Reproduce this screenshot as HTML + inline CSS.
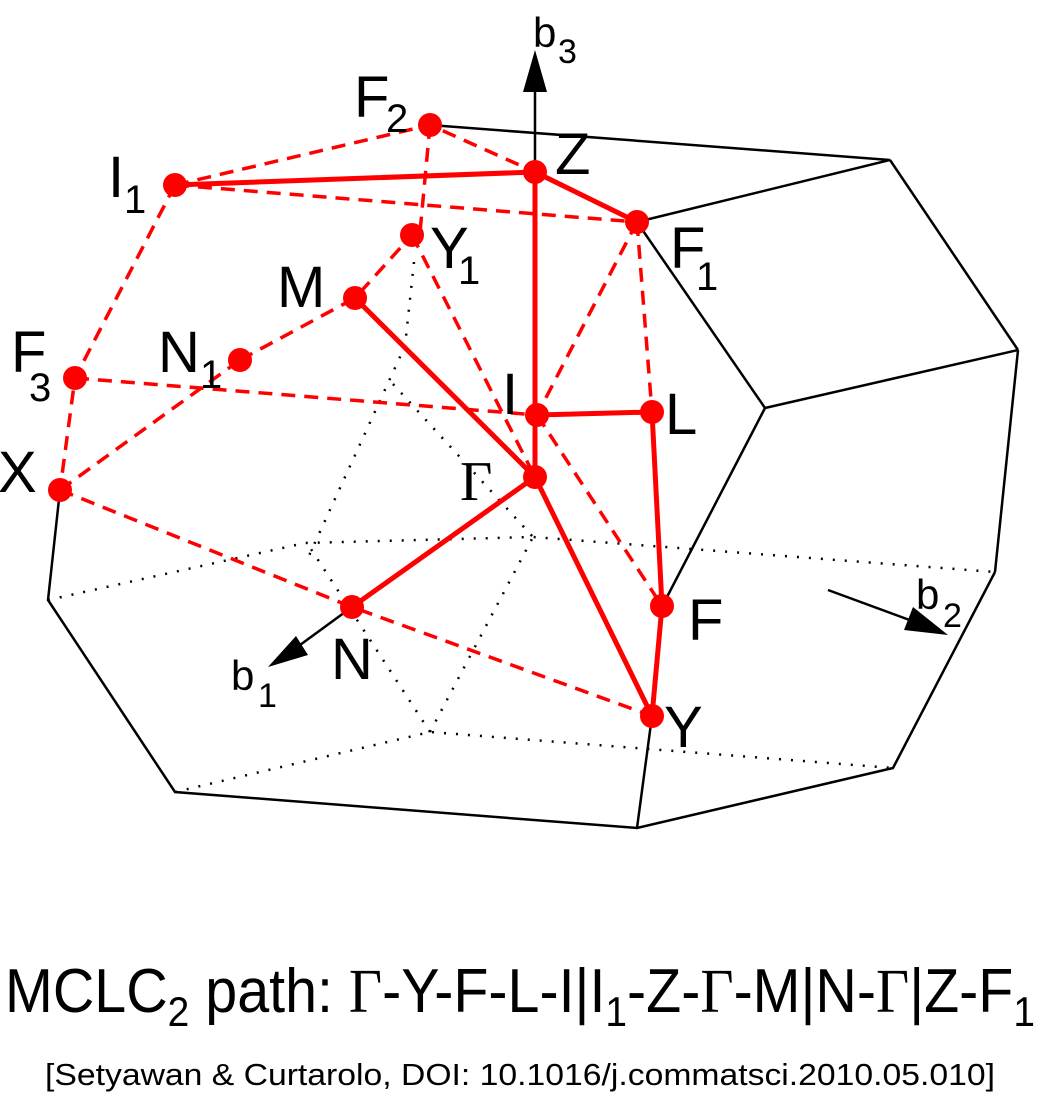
<!DOCTYPE html>
<html><head><meta charset="utf-8"><style>
html,body{margin:0;padding:0;background:#fff;}
svg{display:block;}
text{font-family:"Liberation Sans",sans-serif;fill:#000;}
</style></head><body>
<svg width="1043" height="1097" viewBox="0 0 1043 1097" xmlns="http://www.w3.org/2000/svg">
<!-- dotted hidden edges -->
<g stroke="#000" stroke-width="2.5" stroke-dasharray="2,10" fill="none">
<polyline points="48,600 305,543 533,537 995,572"/>
<polyline points="175,792 430,732 893,768"/>
<line x1="430" y1="732" x2="533" y2="537"/>
<line x1="430" y1="732" x2="307" y2="543"/>
<polyline points="414,262 405,346 307,560"/>
<polyline points="393,384 533,537"/>
<polyline points="405,346 533,477"/>
</g>
<!-- black solid edges -->
<g stroke="#000" stroke-width="2.5" fill="none">
<polyline points="430,125 890,160 637,222"/>
<line x1="890" y1="160" x2="1018" y2="350"/>
<line x1="637" y1="222" x2="765" y2="408"/>
<line x1="765" y1="408" x2="1018" y2="350"/>
<line x1="1018" y1="350" x2="995" y2="572"/>
<line x1="765" y1="408" x2="667" y2="597"/>
<polyline points="995,572 893,768 637,828 175,792 48,600 60,490"/>
<line x1="637" y1="828" x2="652" y2="716"/>
<line x1="535" y1="172" x2="535" y2="80"/>
<line x1="352" y1="607" x2="300" y2="645"/>
<line x1="828" y1="590" x2="915" y2="622"/>
</g>
<polygon points="535,50 523,92 547,92" fill="#000"/>
<polygon points="268,667 296,636 308,655" fill="#000"/>
<polygon points="948,635 904,630 913,607" fill="#000"/>
<!-- red dashed -->
<g stroke="#f00" stroke-width="3.5" stroke-dasharray="14,9" fill="none">
<polyline points="175,185 430,125 535,172"/>
<line x1="430" y1="125" x2="420" y2="232"/>
<line x1="175" y1="185" x2="637" y2="222"/>
<polyline points="175,185 75,378 60,490"/>
<line x1="75" y1="378" x2="537" y2="415"/>
<line x1="60" y1="490" x2="240" y2="360"/>
<polyline points="240,360 355,298 412,235"/>
<polyline points="60,490 352,607 652,716"/>
<line x1="412" y1="235" x2="535" y2="477"/>
<line x1="637" y1="222" x2="537" y2="415"/>
<line x1="637" y1="222" x2="652" y2="412"/>
<line x1="537" y1="415" x2="662" y2="606"/>
</g>
<!-- red solid path -->
<g stroke="#f00" stroke-width="5" fill="none" stroke-linejoin="round">
<polyline points="535,477 652,716 662,606 652,412 537,415"/>
<polyline points="175,185 535,172 535,477 355,298"/>
<line x1="352" y1="607" x2="535" y2="477"/>
<line x1="535" y1="172" x2="637" y2="222"/>
</g>
<g fill="#f00">
<circle cx="535" cy="172" r="12"/><circle cx="430" cy="125" r="12"/><circle cx="175" cy="185" r="12"/>
<circle cx="637" cy="222" r="12"/><circle cx="412" cy="235" r="12"/><circle cx="355" cy="298" r="12"/>
<circle cx="240" cy="360" r="12"/><circle cx="75" cy="378" r="12"/><circle cx="60" cy="490" r="12"/>
<circle cx="537" cy="415" r="12"/><circle cx="652" cy="412" r="12"/><circle cx="535" cy="477" r="12"/>
<circle cx="662" cy="606" r="12"/><circle cx="352" cy="607" r="12"/><circle cx="652" cy="716" r="12"/>
</g>
<!-- labels -->
<g font-size="58">
<text x="533" y="47" font-size="42">b</text><text x="558" y="63" font-size="34">3</text>
<text x="354" y="117">F</text><text x="386" y="132" font-size="40">2</text>
<text x="555" y="174">Z</text>
<text x="108" y="197">I</text><text x="124" y="213" font-size="40">1</text>
<text x="430" y="268">Y</text><text x="458" y="284" font-size="40">1</text>
<text x="670" y="268">F</text><text x="696" y="290" font-size="40">1</text>
<text x="277" y="307">M</text>
<text x="158" y="372">N</text><text x="200" y="388" font-size="40">1</text>
<text x="11" y="372">F</text><text x="29" y="401" font-size="40">3</text>
<text x="502" y="414">I</text>
<text x="665" y="434">L</text>
<text x="460" y="500" font-size="56" style="font-family:'Liberation Serif',serif">Γ</text>
<text x="-2" y="492">X</text>
<text x="688" y="640">F</text>
<text x="331" y="679">N</text>
<text x="664" y="747">Y</text>
<text x="231" y="690" font-size="42">b</text><text x="258" y="707" font-size="34">1</text>
<text x="916" y="609" font-size="42">b</text><text x="943" y="627" font-size="34">2</text>
</g>
<text x="5" y="1012" font-size="62" textLength="1030" lengthAdjust="spacingAndGlyphs">MCLC<tspan font-size="42" dy="14">2</tspan><tspan dy="-14"> path: </tspan><tspan style="font-family:'Liberation Serif',serif">Γ</tspan>-Y-F-L-I|I<tspan font-size="42" dy="14">1</tspan><tspan dy="-14">-Z-</tspan><tspan style="font-family:'Liberation Serif',serif">Γ</tspan>-M|N-<tspan style="font-family:'Liberation Serif',serif">Γ</tspan>|Z-F<tspan font-size="42" dy="14">1</tspan></text>
<text x="45" y="1085" font-size="31" textLength="950" lengthAdjust="spacingAndGlyphs">[Setyawan &amp; Curtarolo, DOI: 10.1016/j.commatsci.2010.05.010]</text>
</svg>
</body></html>
